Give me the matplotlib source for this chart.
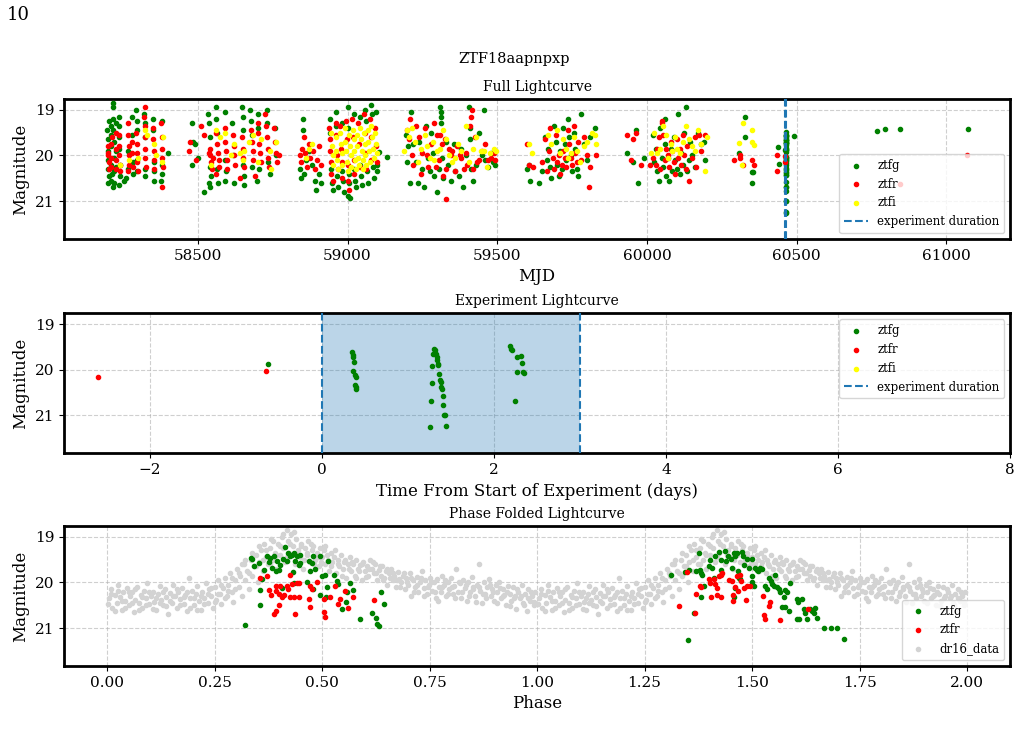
import numpy as np
import matplotlib
matplotlib.use("Agg")
import matplotlib.pyplot as plt

plt.rcParams['font.family'] = ['DejaVu Serif']

object_name = "ZTF18aapnpxp"
experiment_start = 60463.0
experiment_length = 3.0

# ---- ZTF survey photometry (MJD, magnitude) per band ----
ztfg_mjd = [
    58198, 58199, 58200, 58200, 58201, 58202, 58199, 58203, 58209, 58210, 58211, 58210, 58212, 58211,
    58217, 58218, 58217, 58218, 58219, 58220, 58219, 58221, 58218, 58225, 58226, 58227,
    58236, 58237, 58238, 58237, 58239, 58240, 58238, 58252, 58260, 58267, 58268,
    58280, 58281, 58282, 58283, 58295, 58296, 58297, 58296, 58298, 58321, 58322, 58323, 58324, 58325,
    58350, 58351, 58352, 58353, 58352, 58379, 58380, 58381, 58378, 58399,
    58479, 58484, 58490, 58480, 58500, 58535, 58537, 58540, 58542, 58545, 58538, 58541,
    58560, 58562, 58565, 58563, 58566, 58520, 58590, 58592, 58595, 58591, 58615, 58617, 58620,
    58648, 58650, 58652, 58651, 58653, 58655, 58675, 58678, 58680, 58682,
    58700, 58702, 58705, 58698, 58730, 58732, 58735, 58740, 58757, 58760,
    58840, 58845, 58850, 58852, 58855, 58860, 58870, 58880, 58890, 58905, 58910, 58895,
    58940, 58942, 58945, 58948, 58950, 58960, 58962, 58965, 58968, 58980, 58982, 58985, 58988,
    59000, 59002, 59004, 59006, 59003, 59008, 59020, 59022, 59025, 59028, 59040, 59042, 59045, 59048,
    59060, 59062, 59065, 59068, 59080, 59082, 59085, 59088, 59095, 59097, 59100, 59105, 59131,
    59195, 59198, 59203, 59210, 59212, 59220, 59228, 59235, 59240, 59250, 59255, 59262, 59268, 59275,
    59280, 59285, 59290, 59300, 59305, 59310, 59311, 59312, 59313, 59315, 59320, 59330, 59335, 59345,
    59355, 59360, 59372, 59380, 59385, 59395, 59405, 59408, 59410, 59412, 59420, 59430, 59440, 59448,
    59455, 59460, 59470, 59478, 59485, 59492,
    59598, 59605, 59610, 59640, 59650, 59660, 59665, 59670, 59675, 59680, 59690, 59695, 59700, 59705,
    59710, 59715, 59720, 59725, 59730, 59735, 59740, 59745, 59750, 59755, 59760, 59765, 59770, 59780,
    59790, 59800, 59810, 59825,
    59935, 59955, 59965, 59970, 59990, 60020, 60025, 60030, 60035, 60040, 60045, 60050, 60055, 60060,
    60062, 60065, 60070, 60075, 60080, 60085, 60090, 60095, 60100, 60105, 60110, 60115, 60120, 60125,
    60130, 60135, 60140, 60145, 60150, 60160, 60170, 60180, 60190, 60195,
    60328, 60328, 60308, 60350, 60355, 60350, 60437, 60440, 60462.37, 60490,
    60770, 60796, 60844, 61072,
]
ztfg_mag = [
    19.45, 19.65, 19.9, 20.1, 20.3, 20.45, 20.6, 19.25, 19.35, 19.55, 19.8, 20.2, 20.4, 20.55,
    18.85, 18.95, 19.2, 19.45, 19.7, 20.05, 20.35, 20.6, 20.7, 19.3, 19.9, 20.25,
    19.15, 19.35, 19.6, 19.85, 20.2, 20.45, 20.65, 20.55, 20.5, 19.9, 20.3,
    19.15, 19.55, 20.15, 20.4, 19.0, 19.25, 19.45, 20.1, 20.35, 19.1, 19.3, 19.6, 20.3, 20.45,
    19.2, 19.45, 20.15, 20.35, 20.55, 19.25, 20.2, 20.4, 20.55, 19.95,
    19.3, 19.7, 19.75, 20.2, 20.05, 19.1, 19.3, 19.6, 20.25, 20.45, 20.6, 20.7,
    18.95, 19.2, 19.5, 20.3, 20.6, 20.8, 19.05, 20.1, 20.35, 20.55, 19.3, 20.0, 20.6,
    18.95, 19.15, 19.45, 20.2, 20.45, 20.65, 19.0, 19.25, 19.55, 20.25,
    19.1, 19.4, 20.3, 20.55, 19.0, 19.3, 20.15, 20.4, 19.4, 20.0,
    20.3, 20.5, 19.2, 19.45, 20.4, 20.1, 19.9, 20.2, 20.55, 20.4, 20.6, 20.75,
    19.2, 19.5, 20.3, 20.6, 20.75, 19.05, 19.35, 20.45, 20.7, 19.3, 20.35, 20.55, 20.8,
    18.95, 19.4, 20.4, 20.6, 20.88, 20.93, 19.1, 20.3, 20.55, 20.7, 19.15, 20.2, 20.45, 20.65,
    19.0, 19.25, 20.35, 20.6, 18.9, 19.1, 20.25, 20.5, 19.05, 20.2, 20.35, 19.93, 20.04,
    19.55, 20.15, 19.8, 20.6, 19.05, 19.75, 20.15, 20.6, 19.7, 20.3, 20.7, 19.35, 20.05, 20.35,
    19.5, 19.95, 20.45, 20.8, 20.3, 18.95, 19.05, 19.15, 19.3, 20.05, 20.5, 19.7, 20.2, 20.55,
    19.75, 20.35, 20.45, 19.85, 20.7, 20.0, 18.95, 19.4, 19.65, 20.3, 20.55, 20.2, 19.5, 20.0,
    19.0, 20.1, 20.25, 19.95, 20.15, 20.2,
    20.3, 20.2, 20.55, 20.6, 20.35, 19.6, 20.1, 19.85, 20.25, 20.5, 19.35, 19.7, 20.2, 20.45,
    19.9, 20.3, 19.4, 19.75, 20.1, 19.2, 19.6, 20.0, 20.35, 19.5, 19.85, 20.3, 20.45, 19.1,
    19.75, 20.1, 19.6, 19.4,
    19.95, 20.15, 19.45, 20.6, 20.05, 19.55, 20.15, 19.85, 20.35, 20.55, 19.4, 20.05, 20.25, 19.75,
    19.2, 20.45, 20.05, 20.55, 19.85, 20.35, 19.6, 20.1, 20.3, 19.1, 20.4, 19.95, 20.2, 19.5,
    18.95, 20.35, 20.1, 19.7, 20.0, 20.25, 19.5, 19.75, 19.7, 20.1,
    19.17, 19.6, 19.95, 20.36, 20.36, 20.6, 19.82, 20.18, 19.88, 19.58,
    19.46, 19.43, 19.43, 19.43,
]

ztfr_mjd = [
    58200, 58201, 58202, 58203, 58199, 58209, 58210, 58211, 58212, 58225, 58226, 58227, 58228,
    58236, 58237, 58238, 58239, 58240, 58267, 58268, 58269, 58270, 58271, 58268,
    58280, 58281, 58282, 58295, 58296, 58297, 58298, 58299, 58321, 58322, 58323, 58324, 58325, 58326,
    58350, 58351, 58352, 58353, 58354, 58378, 58379, 58380, 58381, 58382, 58380, 58323,
    58470, 58475, 58495, 58510, 58520, 58540, 58542, 58545, 58547, 58538, 58550,
    58562, 58565, 58567, 58570, 58572, 58560, 58590, 58592, 58594, 58596, 58598,
    58617, 58620, 58622, 58625, 58648, 58650, 58652, 58655, 58678, 58680, 58683, 58685,
    58700, 58702, 58705, 58707, 58710, 58725, 58728, 58730, 58733, 58735, 58738,
    58755, 58758, 58760, 58763, 58770, 58690, 58640,
    58840, 58843, 58848, 58855, 58858, 58865, 58870, 58875, 58885, 58892, 58898, 58905, 58910,
    58938, 58940, 58942, 58944, 58946, 58950, 58960, 58962, 58965, 58968, 58975, 58978, 58980, 58983,
    58995, 58998, 59000, 59003, 59005, 59015, 59018, 59020, 59023, 59035, 59038, 59040,
    59055, 59058, 59060, 59063, 59075, 59078, 59080, 59092, 59095, 59098,
    59200, 59205, 59210, 59215, 59220, 59230, 59238, 59245, 59250, 59258, 59265, 59270, 59280, 59288,
    59295, 59300, 59305, 59310, 59315, 59320, 59325, 59330, 59340, 59345, 59350, 59360, 59365, 59375,
    59380, 59390, 59395, 59400, 59410, 59412, 59415, 59420, 59425, 59432, 59440, 59450, 59460, 59468,
    59480, 59488, 59492, 59330,
    59600, 59605, 59620, 59650, 59660, 59665, 59672, 59678, 59685, 59690, 59695, 59700, 59705, 59710,
    59715, 59720, 59725, 59730, 59735, 59740, 59745, 59750, 59755, 59760, 59765, 59770, 59780, 59790,
    59800, 59805, 59810, 59830,
    59935, 59948, 59955, 59965, 59980, 60010, 60020, 60030, 60035, 60040, 60045, 60050, 60052, 60055,
    60060, 60065, 60070, 60075, 60080, 60085, 60090, 60095, 60100, 60105, 60110, 60115, 60120, 60125,
    60130, 60135, 60140, 60150, 60160, 60165, 60175, 60180, 60195,
    60291, 60310, 60310, 60320, 60350, 60357, 60435, 60435, 60460.4, 60462.35,
    60846, 61069,
]
ztfr_mag = [
    19.8, 20.0, 20.15, 20.3, 19.95, 19.75, 20.05, 20.25, 19.6, 19.5, 19.85, 20.1, 20.3,
    19.55, 19.8, 20.0, 20.2, 20.35, 19.3, 19.55, 19.8, 20.0, 20.2, 20.35,
    19.7, 19.95, 20.25, 19.5, 19.75, 19.95, 20.15, 20.35, 19.15, 19.35, 19.6, 19.85, 20.05, 20.25,
    19.4, 19.65, 19.9, 20.1, 20.3, 19.3, 19.6, 19.85, 20.05, 20.25, 20.7, 18.95,
    19.9, 19.7, 20.1, 19.35, 19.55, 19.85, 20.0, 20.15, 20.3, 19.95, 20.05,
    19.5, 19.75, 19.95, 20.1, 20.25, 20.4, 19.4, 19.7, 19.9, 20.1, 20.3,
    19.55, 19.8, 20.0, 20.2, 19.6, 19.85, 20.05, 20.25, 19.45, 19.7, 19.9, 20.1,
    19.3, 19.5, 19.75, 19.95, 20.15, 19.1, 19.35, 19.6, 19.85, 20.05, 20.25,
    19.4, 19.7, 19.95, 20.15, 20.0, 20.45, 20.5,
    20.0, 20.15, 19.85, 19.6, 19.95, 20.25, 19.75, 20.05, 19.9, 20.3, 20.1, 19.8, 20.2,
    19.4, 19.65, 19.9, 20.15, 20.4, 20.55, 19.3, 19.55, 20.0, 20.3, 19.35, 19.85, 20.15, 20.5,
    19.25, 19.65, 20.2, 20.55, 20.75, 19.2, 19.6, 20.1, 20.4, 19.3, 19.75, 20.25,
    19.1, 19.5, 19.95, 20.3, 19.2, 19.6, 20.1, 19.4, 19.8, 20.15,
    19.45, 19.65, 19.2, 20.0, 20.2, 19.35, 19.6, 20.4, 19.95, 19.4, 20.0, 20.25, 19.75, 19.3,
    20.25, 19.55, 20.1, 19.55, 19.75, 20.45, 19.65, 20.3, 19.85, 20.0, 19.9, 20.35, 19.8, 20.0,
    20.05, 20.3, 19.95, 20.2, 19.35, 19.15, 19.0, 20.3, 19.6, 20.15, 20.1, 19.9, 19.75, 20.1,
    20.05, 19.95, 20.1, 20.95,
    19.75, 20.2, 20.25, 20.15, 19.65, 20.35, 19.9, 19.4, 20.05, 20.3, 19.55, 20.15, 20.0, 20.4,
    20.2, 19.9, 20.05, 20.25, 19.45, 19.75, 20.05, 20.2, 19.35, 19.95, 20.15, 19.7, 20.1, 19.6,
    20.0, 20.7, 20.25, 20.0,
    19.55, 20.1, 19.65, 19.5, 20.2, 20.2, 20.05, 20.2, 19.85, 19.6, 20.3, 19.25, 19.3, 19.55,
    20.1, 19.85, 20.0, 20.25, 19.7, 19.9, 20.15, 20.4, 19.65, 20.05, 19.85, 20.2, 19.55, 20.0,
    20.3, 19.8, 20.55, 20.05, 19.6, 20.25, 19.55, 19.9, 19.55,
    20.1, 20.0, 20.05, 20.2, 20.1, 20.2, 20.0, 20.35, 20.15, 20.02,
    20.63, 20.0,
]

ztfi_mjd = [
    58323, 58330, 58355, 58360, 58380, 58385, 58300, 58270, 58240,
    58560, 58575, 58590, 58620, 58640, 58650, 58655, 58670, 58685, 58700, 58712, 58740, 58745,
    58762, 58610, 58545,
    58860, 58870, 58880, 58945, 58948, 58950, 58952, 58960, 58963, 58966, 58969, 58975, 58978, 58980,
    58983, 58990, 58993, 58996, 58999, 59001, 59005, 59008, 59010, 59012, 59018, 59020, 59023, 59025,
    59028, 59030, 59033, 59036, 59038, 59042, 59045, 59048, 59050, 59052, 59055, 59058, 59060, 59063,
    59068, 59070, 59073, 59075, 59080, 59083, 59085, 59088, 59092, 59095, 59098,
    59190, 59200, 59205, 59215, 59225, 59235, 59245, 59260, 59265, 59275, 59285, 59290, 59300, 59310,
    59320, 59330, 59340, 59350, 59360, 59370, 59380, 59395, 59405, 59420, 59430, 59445, 59455, 59465,
    59475, 59488, 59495,
    59605, 59615, 59670, 59680, 59700, 59710, 59720, 59730, 59735, 59745, 59755, 59765, 59775, 59790,
    59800, 59815, 59825, 59830,
    60015, 60025, 60035, 60045, 60055, 60065, 60070, 60080, 60085, 60095, 60100, 60110, 60120, 60130,
    60140, 60150, 60160, 60170, 60180, 60200, 60195,
    60308, 60320, 60350, 60352, 60357, 60318,
]
ztfi_mag = [
    19.45, 19.55, 19.75, 20.0, 20.15, 19.6, 20.05, 20.1, 20.2,
    19.45, 19.6, 19.5, 19.75, 19.95, 20.1, 19.9, 19.7, 19.55, 20.15, 19.65, 19.9, 20.3,
    19.7, 20.0, 20.2,
    20.05, 19.85, 19.75, 19.5, 19.8, 20.0, 20.2, 19.6, 19.9, 20.1, 20.3, 19.5, 19.75, 19.95,
    20.2, 19.4, 19.7, 19.9, 20.15, 20.35, 19.55, 19.8, 20.0, 20.25, 19.45, 19.65, 19.9, 20.1,
    20.3, 19.55, 19.8, 20.05, 20.2, 19.4, 19.65, 19.9, 20.1, 20.3, 19.5, 19.75, 20.0, 20.2,
    19.45, 19.7, 19.9, 20.15, 19.35, 19.6, 19.85, 20.05, 19.5, 19.75, 19.95,
    19.9, 19.45, 19.6, 19.4, 19.7, 20.15, 19.85, 19.55, 19.8, 20.05, 19.7, 20.1, 19.9, 19.85,
    19.45, 19.65, 20.0, 20.15, 20.05, 19.75, 19.9, 19.35, 20.15, 19.85, 19.6, 19.9, 19.9, 20.25,
    19.95, 19.85, 19.9,
    19.75, 19.95, 19.55, 19.75, 19.45, 19.95, 19.65, 19.85, 20.05, 19.95, 19.6, 19.9, 20.15, 19.8,
    19.7, 19.5, 19.55, 19.75,
    19.95, 19.5, 19.95, 19.85, 19.35, 19.55, 20.05, 19.75, 19.9, 19.6, 19.85, 19.95, 19.7, 19.35,
    19.65, 19.8, 19.9, 19.45, 19.75, 19.6, 20.35,
    19.72, 19.3, 19.45, 19.7, 19.78, 20.2,
]

# ---- ztfg points taken during the experiment (days from start) ----
exp_g_t = [
    0.35, 0.357, 0.364, 0.372, 0.364, 0.38, 0.39, 0.387, 0.40, 0.40,
    1.302, 1.314, 1.287, 1.326, 1.333, 1.341, 1.345, 1.353, 1.283, 1.36, 1.372,
    1.38, 1.275, 1.384, 1.391, 1.403, 1.267, 1.411, 1.419, 1.43, 1.256, 1.442,
    2.186, 2.194, 2.205, 2.318, 2.271, 2.326, 2.264, 2.341, 2.353, 2.248,
]
exp_g_mag = [
    19.62, 19.67, 19.73, 19.83, 20.03, 20.12, 20.17, 20.33, 20.37, 20.43,
    19.55, 19.57, 19.66, 19.66, 19.73, 19.78, 19.88, 19.89, 19.93, 20.09, 20.22,
    20.28, 20.30, 20.38, 20.43, 20.58, 20.69, 20.78, 21.0, 21.0, 21.25, 21.24,
    19.48, 19.55, 19.57, 19.70, 19.72, 19.86, 20.06, 20.04, 20.08, 20.69,
]

# ---- phase folded ZTF points ----
fold_g_phase = [
    0.334, 0.338, 0.341, 0.353, 0.365, 0.372, 0.376, 0.380, 0.384, 0.388, 0.392, 0.395, 0.399, 0.403,
    0.409, 0.415, 0.419, 0.421, 0.426, 0.430, 0.432, 0.434, 0.438, 0.442, 0.446, 0.448, 0.449, 0.469,
    0.473, 0.477, 0.480, 0.484, 0.496, 0.514, 0.500, 0.507, 0.527, 0.534, 0.538, 0.565, 0.573, 0.355,
    0.361, 0.355, 0.322, 0.407, 0.434, 0.465, 0.480, 0.496, 0.511, 0.509, 0.546, 0.555, 0.558, 0.589,
    0.616, 0.626, 0.627, 0.633, 0.637, 0.643,
    1.311, 1.353, 1.345, 1.369, 1.376, 1.380, 1.382, 1.384, 1.389, 1.382, 1.399, 1.403, 1.407, 1.411,
    1.415, 1.423, 1.427, 1.429, 1.438, 1.440, 1.444, 1.450, 1.454, 1.457, 1.461, 1.465, 1.468, 1.477,
    1.479, 1.481, 1.488, 1.492, 1.500, 1.501, 1.504, 1.508, 1.511, 1.515, 1.519, 1.523, 1.500, 1.531,
    1.535, 1.539, 1.543, 1.547, 1.554, 1.550, 1.558, 1.562, 1.566, 1.577, 1.581, 1.574, 1.570, 1.576,
    1.587, 1.589, 1.605, 1.608, 1.616, 1.605, 1.610, 1.620, 1.624, 1.627, 1.635, 1.639, 1.643, 1.647,
    1.651, 1.667, 1.683, 1.698, 1.714, 1.351, 1.366, 1.461, 1.457, 1.469, 1.473,
]
fold_g_mag = [
    19.46, 19.48, 19.64, 19.57, 19.72, 19.43, 19.56, 19.46, 19.68, 19.43, 19.75, 19.54, 19.72, 19.61,
    19.49, 19.22, 19.54, 19.36, 19.43, 19.39, 19.78, 19.36, 19.54, 19.43, 19.61, 19.39, 19.57, 19.54,
    19.75, 19.57, 19.43, 19.70, 19.43, 19.54, 19.86, 19.83, 19.83, 19.97, 20.04, 20.02, 20.17, 20.17,
    19.93, 20.50, 20.93, 20.12, 20.02, 19.99, 20.15, 20.28, 20.10, 20.31, 20.59, 20.43, 20.20, 20.79,
    20.67, 20.77, 20.91, 20.96, 20.21, 20.48,
    19.83, 19.72, 19.78, 19.75, 19.36, 19.72, 19.79, 19.83, 20.07, 20.31, 19.63, 19.50, 19.68, 19.90,
    19.43, 19.34, 19.50, 19.73, 19.32, 19.54, 19.43, 19.49, 19.68, 19.36, 19.43, 19.36, 19.75, 19.34,
    19.43, 19.61, 19.49, 19.68, 19.49, 19.99, 20.08, 19.68, 19.72, 19.75, 19.68, 19.70, 19.86, 20.08,
    20.15, 19.90, 19.97, 20.04, 19.83, 20.08, 20.09, 20.14, 20.21, 20.17, 20.22, 20.33, 20.53, 20.54,
    20.62, 20.01, 20.37, 20.43, 20.37, 20.80, 20.80, 20.59, 20.66, 20.79, 20.59, 20.62, 20.66, 20.57,
    20.78, 20.99, 20.99, 20.99, 21.24, 21.25, 20.67, 20.12, 20.31, 19.90, 19.92,
]
fold_r_phase = [
    0.355, 0.372, 0.376, 0.382, 0.392, 0.394, 0.399, 0.403, 0.407, 0.412, 0.419, 0.422, 0.426, 0.430,
    0.434, 0.442, 0.446, 0.469, 0.473, 0.477, 0.488, 0.504, 0.505, 0.506, 0.519, 0.531, 0.536, 0.542,
    0.554, 0.561, 0.572, 0.622, 0.388, 0.392, 0.399, 0.438, 0.471, 0.425, 0.446,
    1.348, 1.330, 1.367, 1.369, 1.378, 1.382, 1.399, 1.403, 1.405, 1.411, 1.415, 1.419, 1.423, 1.427,
    1.431, 1.419, 1.429, 1.446, 1.454, 1.455, 1.456, 1.460, 1.465, 1.467, 1.473, 1.475, 1.481, 1.485,
    1.488, 1.496, 1.525, 1.528, 1.531, 1.539, 1.541, 1.566, 1.631,
]
fold_r_mag = [
    19.91, 19.86, 20.17, 20.28, 20.07, 20.19, 20.26, 20.08, 20.33, 20.28, 20.07, 20.15, 20.31, 20.04,
    20.33, 20.01, 20.31, 20.36, 20.08, 20.15, 19.98, 20.37, 20.64, 20.75, 20.31, 20.07, 20.48, 20.37,
    20.19, 20.57, 20.31, 20.38, 20.70, 20.62, 20.50, 20.70, 20.54, 19.83, 20.02,
    19.78, 20.51, 20.67, 20.26, 20.07, 20.09, 19.93, 20.02, 20.33, 19.93, 20.04, 20.13, 19.86, 19.83,
    19.80, 20.28, 20.31, 19.95, 19.97, 20.28, 20.41, 20.09, 19.86, 20.19, 19.83, 19.97, 20.12, 20.38,
    20.07, 20.07, 20.30, 20.72, 20.80, 20.51, 20.43, 20.83, 20.59,
]

# ---- archival dr16 photometry folded on one cycle ----
dr16_phase = [
    0.005, 0.010, 0.012, 0.018, 0.022, 0.025, 0.030, 0.034, 0.038, 0.042, 0.046, 0.050, 0.054, 0.058,
    0.062, 0.066, 0.070, 0.074, 0.078, 0.082, 0.086, 0.090, 0.094, 0.098, 0.102, 0.106, 0.110, 0.114,
    0.118, 0.122, 0.126, 0.130, 0.134, 0.138, 0.142, 0.146, 0.150, 0.154, 0.158, 0.162, 0.166, 0.170,
    0.174, 0.178, 0.182, 0.186, 0.190, 0.194, 0.198, 0.202, 0.206, 0.210, 0.214, 0.218, 0.222, 0.226,
    0.230, 0.234, 0.238, 0.242, 0.246, 0.250, 0.254, 0.258, 0.262, 0.266, 0.270, 0.274, 0.278, 0.282,
    0.286, 0.290, 0.294, 0.298, 0.302, 0.306, 0.310, 0.314, 0.318, 0.322, 0.326, 0.330, 0.334, 0.338,
    0.342, 0.346, 0.350, 0.354, 0.358, 0.362, 0.366, 0.370, 0.374, 0.378, 0.382, 0.386, 0.390, 0.394,
    0.398, 0.402, 0.406, 0.410, 0.414, 0.418, 0.420, 0.424, 0.428, 0.432, 0.436, 0.440, 0.444, 0.448,
    0.452, 0.456, 0.460, 0.464, 0.468, 0.472, 0.476, 0.480, 0.484, 0.488, 0.492, 0.496, 0.500, 0.504,
    0.508, 0.512, 0.516, 0.520, 0.524, 0.528, 0.532, 0.536, 0.540, 0.544, 0.548, 0.552, 0.556, 0.560,
    0.564, 0.568, 0.572, 0.576, 0.580, 0.584, 0.588, 0.592, 0.596, 0.600, 0.604, 0.608, 0.612, 0.616,
    0.620, 0.624, 0.628, 0.632, 0.636, 0.640, 0.644, 0.648, 0.652, 0.656, 0.660, 0.664, 0.668, 0.672,
    0.676, 0.680, 0.684, 0.688, 0.692, 0.696, 0.700, 0.704, 0.708, 0.712, 0.716, 0.720, 0.724, 0.728,
    0.732, 0.736, 0.740, 0.744, 0.748, 0.752, 0.756, 0.760, 0.764, 0.768, 0.772, 0.776, 0.780, 0.784,
    0.788, 0.792, 0.796, 0.800, 0.804, 0.808, 0.812, 0.816, 0.820, 0.824, 0.828, 0.832, 0.836, 0.840,
    0.844, 0.848, 0.852, 0.856, 0.860, 0.864, 0.868, 0.872, 0.876, 0.880, 0.884, 0.888, 0.892, 0.896,
    0.900, 0.904, 0.908, 0.912, 0.916, 0.920, 0.924, 0.928, 0.932, 0.936, 0.940, 0.944, 0.948, 0.952,
    0.956, 0.960, 0.964, 0.968, 0.972, 0.976, 0.980, 0.984, 0.988, 0.992, 0.996,
    0.002, 0.010, 0.018, 0.026, 0.034, 0.042, 0.050, 0.058, 0.066, 0.074, 0.082, 0.090, 0.098, 0.106,
    0.114, 0.122, 0.130, 0.138, 0.146, 0.154, 0.162, 0.170, 0.178, 0.186, 0.194, 0.202, 0.210, 0.218,
    0.226, 0.234, 0.242, 0.250, 0.258, 0.266, 0.274, 0.282, 0.290, 0.298, 0.306, 0.314, 0.322, 0.330,
    0.338, 0.346, 0.354, 0.362, 0.370, 0.378, 0.386, 0.394, 0.402, 0.410, 0.418, 0.426, 0.434, 0.442,
    0.450, 0.458, 0.466, 0.474, 0.482, 0.490, 0.498, 0.506, 0.514, 0.522, 0.530, 0.538, 0.546, 0.554,
    0.562, 0.570, 0.578, 0.586, 0.594, 0.602, 0.610, 0.618, 0.626, 0.634, 0.642, 0.650, 0.658, 0.666,
    0.674, 0.682, 0.690, 0.698, 0.706, 0.714, 0.722, 0.730, 0.738, 0.746, 0.754, 0.762, 0.770, 0.778,
    0.786, 0.794, 0.802, 0.810, 0.818, 0.826, 0.834, 0.842, 0.850, 0.858, 0.866, 0.874, 0.882, 0.890,
    0.898, 0.906, 0.914, 0.922, 0.930, 0.938, 0.946, 0.954, 0.962, 0.970, 0.978, 0.986, 0.994,
]
dr16_mag = [
    20.35, 20.15, 20.55, 20.28, 20.45, 20.05, 20.32, 20.6, 20.2, 20.4, 20.12, 20.5, 20.3, 20.22,
    20.65, 20.38, 20.1, 20.45, 20.27, 20.55, 20.18, 20.35, 20.02, 20.48, 20.3, 20.2, 20.42, 20.6,
    20.25, 20.08, 20.38, 20.5, 20.15, 20.33, 20.7, 20.24, 20.44, 20.05, 20.3, 20.55, 20.2, 20.36,
    20.12, 20.47, 20.28, 20.62, 19.9, 20.34, 20.18, 20.5, 20.25, 20.08, 20.4, 20.6, 20.22, 20.35,
    20.02, 20.45, 20.15, 20.3, 20.55, 20.1, 20.38, 19.95, 20.25, 20.48, 20.12, 19.9, 20.3, 20.05,
    19.8, 20.2, 20.42, 19.95, 19.7, 20.1, 19.85, 20.3, 19.6, 19.95, 19.75, 20.15, 19.5, 19.85,
    19.65, 19.4, 20.0, 19.55, 19.3, 19.75, 19.15, 19.45, 19.6, 19.25, 19.05, 19.5, 19.35, 19.7,
    19.15, 19.4, 19.0, 19.25, 19.55, 18.85, 19.1, 19.35, 18.95, 19.2, 19.6, 19.05, 19.3, 19.45,
    19.15, 19.7, 19.25, 19.4, 19.1, 19.55, 19.3, 19.2, 19.5, 19.35, 19.65, 19.25, 19.45, 19.3,
    19.6, 19.4, 19.75, 19.35, 19.55, 19.45, 19.8, 19.5, 19.65, 19.4, 19.7, 19.55, 19.9, 19.6,
    19.45, 19.75, 19.6, 19.85, 19.5, 19.7, 19.62, 19.95, 19.55, 19.75, 19.65, 19.85, 19.5, 19.7,
    19.8, 19.6, 19.95, 19.72, 19.85, 19.65, 19.9, 19.75, 20.05, 19.8, 19.7, 19.95, 19.85, 20.1,
    19.78, 19.92, 20.0, 19.85, 20.15, 19.9, 20.05, 19.8, 20.3, 19.95, 20.1, 19.88, 20.2, 20.0,
    19.75, 20.12, 19.95, 20.25, 20.05, 19.9, 20.18, 20.0, 20.35, 19.92, 20.1, 20.22, 19.85, 20.05,
    20.3, 20.0, 20.15, 19.9, 20.25, 20.08, 19.7, 20.2, 20.02, 20.35, 19.95, 20.12, 20.4, 20.0,
    20.2, 19.88, 20.1, 20.3, 20.05, 19.6, 20.18, 20.45, 20.0, 20.25, 20.1, 19.92, 20.3, 20.15,
    20.4, 20.05, 20.22, 20.0, 20.35, 20.15, 20.28, 20.5, 20.08, 20.25, 20.4, 20.1, 20.3, 20.58,
    20.2, 20.35, 20.05, 20.45, 20.25, 20.62, 20.15, 20.4, 20.3, 20.5, 20.2,
    20.48, 20.25, 20.62, 20.18, 20.4, 20.55, 20.2, 20.45, 20.15, 20.6, 20.32, 20.5, 20.2, 20.58,
    20.35, 20.45, 20.22, 20.52, 20.4, 20.3, 20.15, 20.5, 20.32, 20.2, 20.55, 20.35, 20.6, 20.3,
    20.48, 20.25, 20.12, 20.42, 20.25, 20.05, 20.35, 20.18, 19.9, 20.15, 19.8, 19.6, 19.5, 19.8,
    19.35, 19.65, 19.2, 19.5, 19.3, 19.6, 19.1, 19.4, 19.2, 18.95, 19.45, 19.15, 18.9, 19.4,
    19.2, 19.5, 19.35, 19.15, 19.6, 19.45, 19.55, 19.2, 19.5, 19.65, 19.3, 19.6, 19.85, 19.5,
    19.7, 19.55, 19.9, 19.75, 19.6, 19.88, 19.7, 19.55, 19.8, 19.65, 19.95, 19.7, 19.9, 19.8,
    19.95, 20.1, 19.8, 20.0, 19.9, 20.2, 20.05, 19.9, 20.3, 20.1, 20.0, 20.2, 20.4, 20.1,
    19.95, 20.25, 20.1, 20.35, 20.0, 20.2, 20.05, 20.3, 20.15, 20.42, 20.1, 20.25, 20.35, 20.05,
    20.2, 20.45, 20.12, 20.3, 20.2, 20.52, 20.35, 20.15, 20.3, 20.5, 20.35, 20.2, 20.42,
]

# Combine survey data with the experiment points
g_mjd = np.concatenate([ztfg_mjd, experiment_start + np.array(exp_g_t)])
g_mag = np.concatenate([ztfg_mag, exp_g_mag])
r_mjd = np.array(ztfr_mjd)
r_mag = np.array(ztfr_mag)
i_mjd = np.array(ztfi_mjd)
i_mag = np.array(ztfi_mag)

# dr16 data shown over two cycles
dr16_x = np.concatenate([dr16_phase, np.array(dr16_phase) + 1])
dr16_y = np.concatenate([dr16_mag, dr16_mag])

ms = 9
ylims = (21.83, 18.765)

fig = plt.figure(figsize=(10.28, 7.42), dpi=100)
fig.text(0.007, 0.992, "10", fontsize=13, va='top', ha='left')
fig.suptitle(object_name, y=0.93, fontsize=10.5)

ax1 = fig.add_axes([0.0623, 0.6779, 0.9202, 0.1887])
ax2 = fig.add_axes([0.0623, 0.3891, 0.9202, 0.1887])
ax3 = fig.add_axes([0.0623, 0.1024, 0.9202, 0.1887])

# Full lightcurve
ax1.scatter(g_mjd, g_mag, s=ms, color='green', label='ztfg', zorder=3)
ax1.scatter(r_mjd, r_mag, s=ms, color='red', label='ztfr', zorder=3)
ax1.scatter(i_mjd, i_mag, s=ms, color='yellow', label='ztfi', zorder=3)
ax1.axvline(experiment_start, color='C0', ls='--', label='experiment duration', zorder=4)
ax1.axvline(experiment_start + experiment_length, color='C0', ls='--', zorder=4)
ax1.set_xlim(58053, 61213)
ax1.set_title('Full Lightcurve', fontsize=10)
ax1.set_xlabel('MJD', fontsize=12)
ax1.legend(loc='lower right', fontsize=8.5)

# Experiment lightcurve
ax2.scatter(g_mjd - experiment_start, g_mag, s=ms, color='green', label='ztfg', zorder=3)
ax2.scatter(r_mjd - experiment_start, r_mag, s=ms, color='red', label='ztfr', zorder=3)
ax2.scatter(i_mjd - experiment_start, i_mag, s=ms, color='yellow', label='ztfi', zorder=3)
ax2.axvline(0, color='C0', ls='--', label='experiment duration', zorder=4)
ax2.axvline(experiment_length, color='C0', ls='--', zorder=4)
ax2.axvspan(0, experiment_length, color='C0', alpha=0.3, lw=0)
ax2.set_xlim(-3, 8)
ax2.set_title('Experiment Lightcurve', fontsize=10)
ax2.set_xlabel('Time From Start of Experiment (days)', fontsize=12)
ax2.legend(loc='upper right', fontsize=8.5)

# Phase folded lightcurve
ax3.scatter(fold_g_phase, fold_g_mag, s=ms, color='green', label='ztfg', zorder=3)
ax3.scatter(fold_r_phase, fold_r_mag, s=ms, color='red', label='ztfr', zorder=3)
ax3.scatter(dr16_x, dr16_y, s=ms, color='lightgray', label='dr16_data', zorder=2)
ax3.set_xlim(-0.1, 2.1)
ax3.set_title('Phase Folded Lightcurve', fontsize=10)
ax3.set_xlabel('Phase', fontsize=12)
ax3.legend(loc='lower right', fontsize=8.5)

for ax in (ax1, ax2, ax3):
    ax.set_ylim(*ylims)
    ax.set_yticks([19, 20, 21])
    ax.set_ylabel('Magnitude', fontsize=12)
    ax.grid(True, linestyle='--', color='#b0b0b0', alpha=0.6)
    ax.set_axisbelow(True)
    ax.tick_params(labelsize=11)
    for sp in ax.spines.values():
        sp.set_linewidth(2)
        sp.set_color('black')

fig.savefig('out.png', dpi=100)
